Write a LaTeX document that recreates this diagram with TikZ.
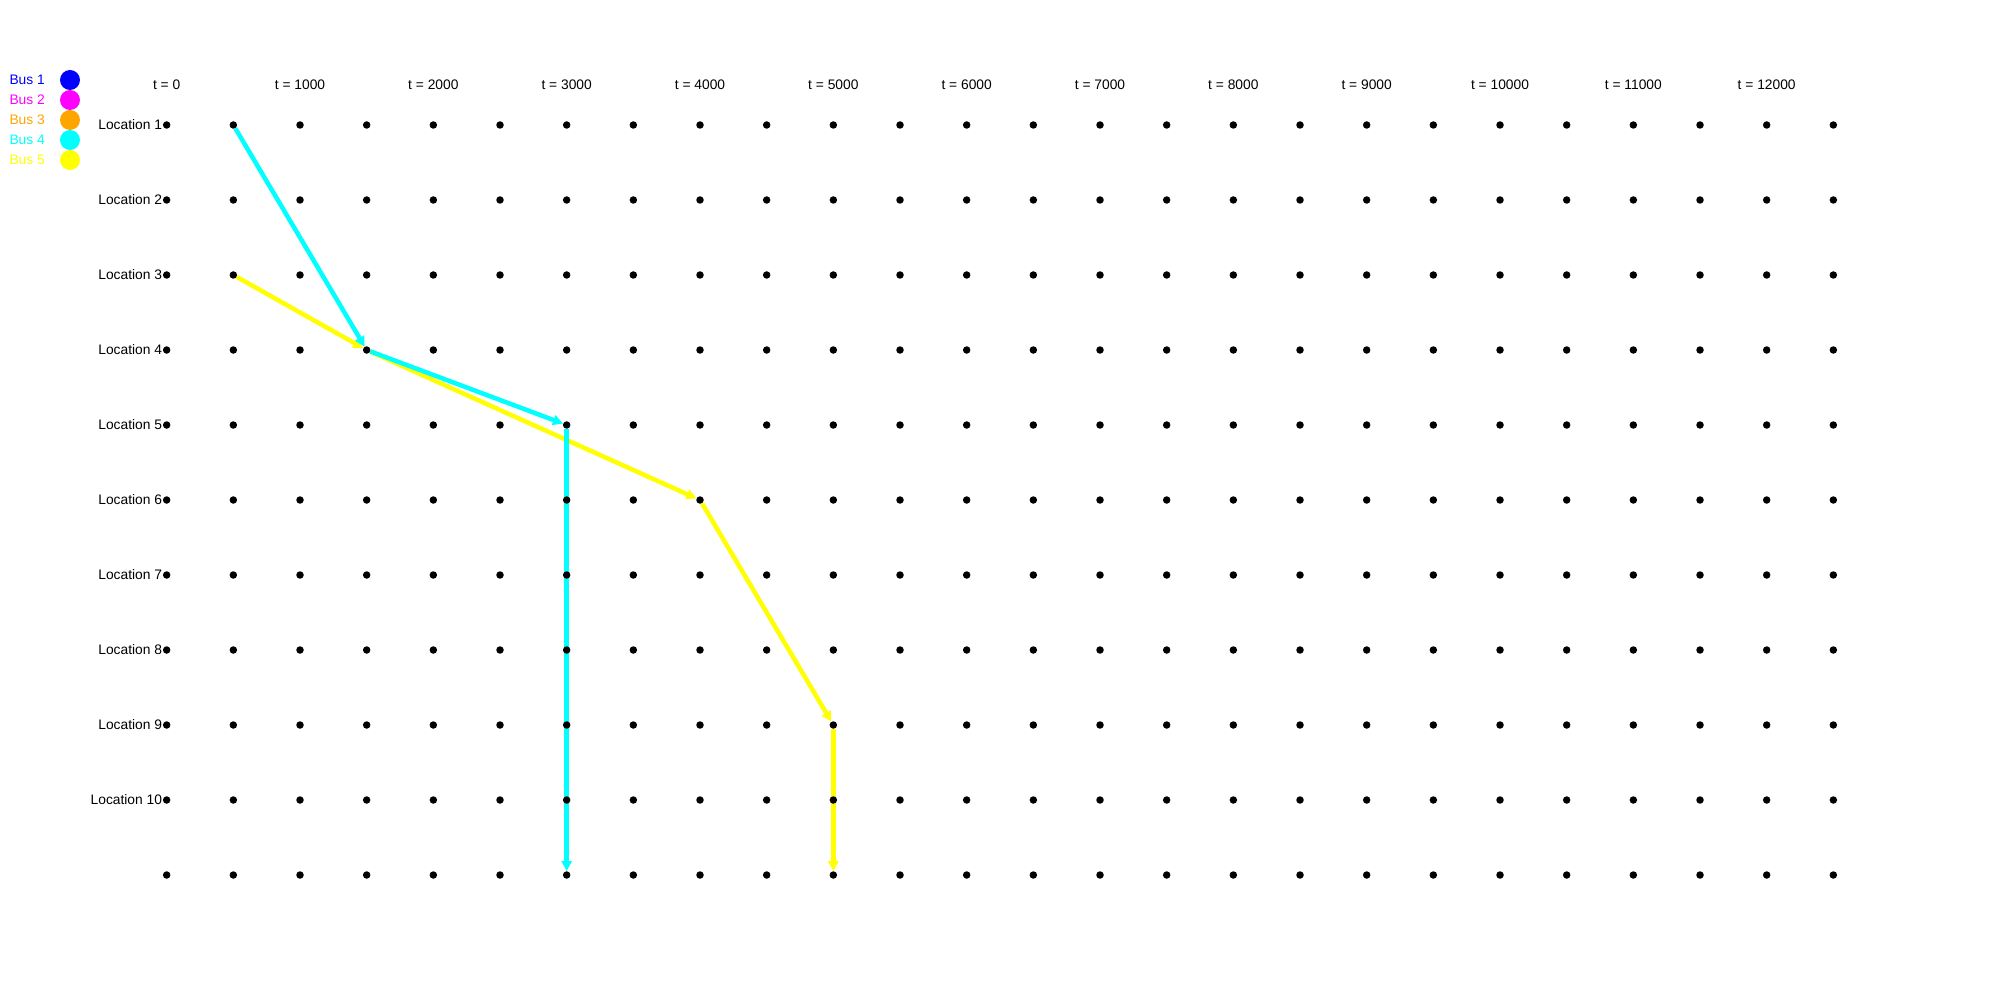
\documentclass[tikz,border=0pt]{standalone}
\usepackage{fontspec}
\setmainfont{Liberation Sans}
\usetikzlibrary{arrows.meta,backgrounds}
\definecolor{busblue}{RGB}{0,0,255}
\definecolor{busmagenta}{RGB}{255,0,255}
\definecolor{busorange}{RGB}{255,165,0}
\definecolor{buscyan}{RGB}{0,255,255}
\definecolor{busyellow}{RGB}{255,255,0}
\begin{document}
\begin{tikzpicture}[x=1pt,y=-1pt,
  dot/.style={circle,fill=black,inner sep=0pt,minimum size=7.5pt},
  lbl/.style={font=\fontsize{13.8}{15}\selectfont,inner sep=0pt},
  route/.style={line width=4.5pt,-{Triangle[length=10pt,width=10pt]}},
  legdot/.style={circle,inner sep=0pt,minimum size=20pt}]
\useasboundingbox (0,0) rectangle (2000,1000);
% grid of dots
\foreach \c in {0,...,25} {
  \foreach \r in {1,...,11} {
    \node[dot] (d-\c-\r) at ({166.67+66.667*\c},{50+75*\r}) {};
  }
}
% time labels
\foreach \k in {0,...,12} {
  \pgfmathtruncatemacro{\tv}{\k*1000}
  \node[lbl] (t-\k) at ({166.67+133.333*\k},85) {t = \tv};
}
% location labels
\foreach \r in {1,...,10} {
  \node[lbl,anchor=east] (loc-\r) at ([xshift=-0.5pt]d-0-\r.west) {Location \r};
}
% legend
\node[lbl,anchor=east,text=busblue] (b1) at (45,80) {Bus 1};
\node[lbl,anchor=east,text=busmagenta] (b2) at (45,100) {Bus 2};
\node[lbl,anchor=east,text=busorange] (b3) at (45,120) {Bus 3};
\node[lbl,anchor=east,text=buscyan] (b4) at (45,140) {Bus 4};
\node[lbl,anchor=east,text=busyellow] (b5) at (45,160) {Bus 5};
\node[legdot,fill=busblue] (c1) at (70,80) {};
\node[legdot,fill=busmagenta] (c2) at (70,100) {};
\node[legdot,fill=busorange] (c3) at (70,120) {};
\node[legdot,fill=buscyan] (c4) at (70,140) {};
\node[legdot,fill=busyellow] (c5) at (70,160) {};
% routes
\begin{scope}[on background layer]
  % Bus 5
  \draw[route,busyellow] (d-1-3) -- (d-3-4);
  \draw[route,busyellow] (d-3-4) -- (d-8-6);
  \draw[route,busyellow] (d-8-6) -- (d-10-9);
  \draw[route,busyellow] (d-10-9) -- (d-10-11);
  % Bus 4
  \draw[route,buscyan] (d-1-1) -- (d-3-4);
  \draw[route,buscyan] (d-3-4) -- (d-6-5);
  \draw[route,buscyan] (d-6-5) -- (d-6-11);
\end{scope}
\end{tikzpicture}
\end{document}
